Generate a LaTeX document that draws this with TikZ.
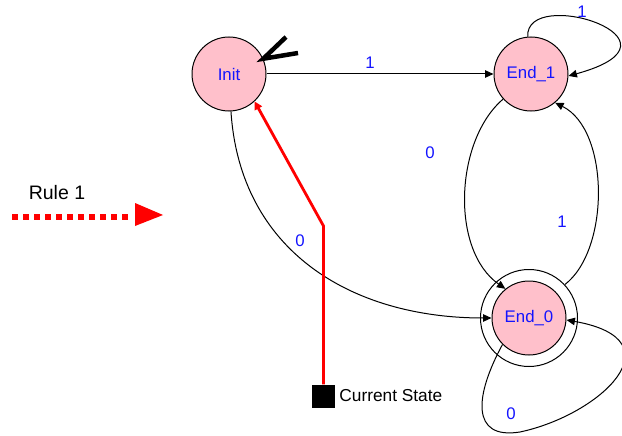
\documentclass[tikz,border=0pt]{standalone}
\usepackage{fontspec}
\setmainfont{Liberation Sans}
\usetikzlibrary{arrows.meta}
\definecolor{statepink}{RGB}{255,192,203}
\definecolor{labelblue}{RGB}{20,20,255}
\tikzset{
  state/.style={circle, draw=black, line width=1pt, fill=statepink, minimum size=74pt, inner sep=0pt,
    text=labelblue, font=\fontsize{16.8}{19}\selectfont},
  ring/.style={circle, draw=black, line width=1pt, minimum size=97pt, inner sep=0pt},
  edge/.style={draw=black, line width=1pt, -{Triangle[length=8.5pt,width=7.5pt]}},
  lbl/.style={text=labelblue, font=\fontsize{16.8}{19}\selectfont, inner sep=0pt},
  plain/.style={text=black, font=\fontsize{17.3}{20}\selectfont, inner sep=0pt},
  curarrow/.style={draw=red, line width=2.8pt, -{Triangle[length=8pt,width=8pt]}},
}
\begin{document}
\begin{tikzpicture}[x=1pt, y=-1pt]
  \useasboundingbox (0,0) rectangle (622,436);

  % states
  \node[state] (init) at (229,74) {Init};
  \node[state] (end1) at (531,74) {End\_1};
  \node[ring]  (end0o) at (529,318) {};
  \node[state] (end0) at (529,318) {End\_0};

  % start marker on Init
  \coordinate (s1) at (286,37);
  \coordinate (s2) at (298,53);
  \draw[line width=4.5pt] (s1) -- (init.24) -- (s2);

  % transitions
  \draw[edge] (init.east) -- (end1.west);
  \node[lbl] (l1) at (370,63) {1};

  \draw[edge] (end1.95) .. controls (525,-15) and (700,40) .. (end1.-3);
  \node[lbl] (l2) at (582,12) {1};

  \draw[edge] (end1.222) .. controls (455,140) and (450,250) .. (end0.129);
  \node[lbl] (l3) at (430,153) {0};

  \draw[edge] (end0o.43) .. controls (610,250) and (610,130) .. (end1.-50);
  \node[lbl] (l4) at (562,222) {1};

  \draw[edge] (init.-87) .. controls (240,250) and (350,318) .. (end0.180);
  \node[lbl] (l5) at (300,241) {0};

  \draw[edge] (end0.-135) .. controls (475,395) and (470,440) .. (520,432)
                          .. controls (600,415) and (680,340) .. (end0.-3);
  \node[lbl] (l6) at (511,414) {0};

  % current state pointer
  \node[fill=black, minimum size=23pt, inner sep=0pt] (cur) at (323.5,396) {};
  \node[plain, anchor=west] (curtxt) at ([xshift=4pt]cur.east) {Current State};
  \coordinate (bend) at (cur.north |- 0,226);
  \draw[curarrow] (cur.north) -- (bend) -- (init.-47);

  % rule arrow
  \node[plain, font=\fontsize{19.5}{22}\selectfont] (rule) at (57,193) {Rule 1};
  \coordinate (r0) at (12,217);
  \coordinate (r1) at (129,217);
  \draw[red, line width=6pt, dash pattern=on 6pt off 5pt] (r0) -- (r1);
  \fill[red] (135,203) -- (163,215) -- (135,226) -- cycle;
\end{tikzpicture}
\end{document}
